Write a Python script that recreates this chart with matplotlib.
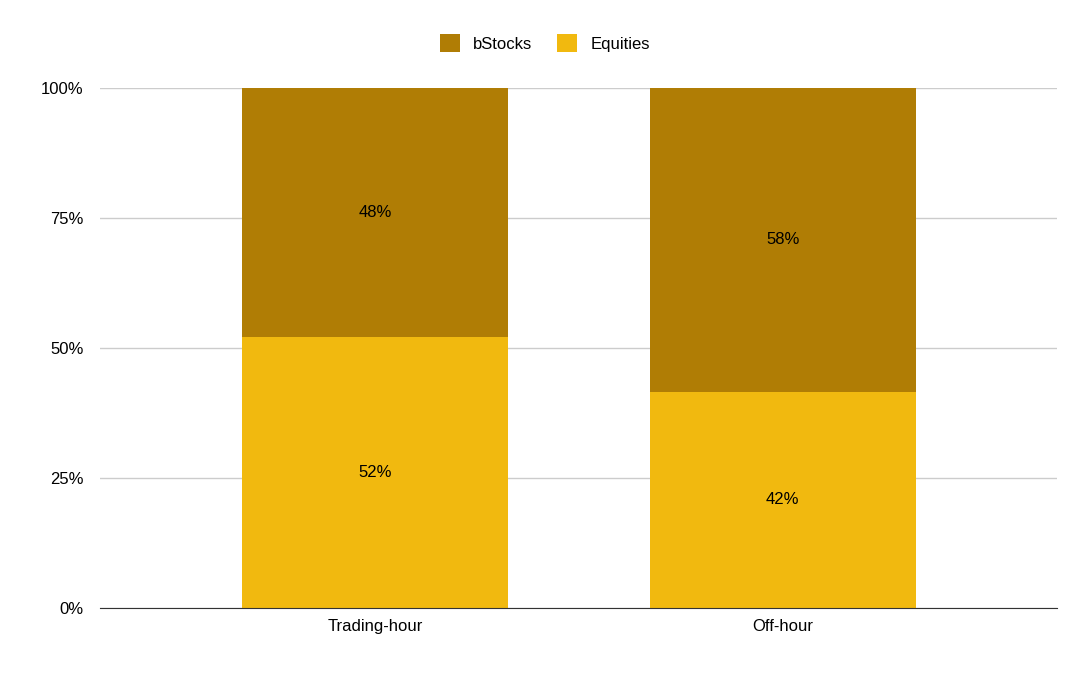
import matplotlib
matplotlib.use("Agg")
import matplotlib.pyplot as plt

categories = ["Trading-hour", "Off-hour"]
equities = [52.2, 41.6]
bstocks = [47.8, 58.4]

fig = plt.figure(figsize=(10.92, 6.75), dpi=100)
ax = fig.add_axes([100/1092, 1-608/675, 957/1092, 520/675])
x = list(range(len(categories)))
c_eq = "#F1B90F"
c_bs = "#B07D05"
ax.bar(x, equities, width=0.652, color=c_eq, label="Equities", zorder=2)
ax.bar(x, bstocks, width=0.652, bottom=equities, color=c_bs, label="bStocks", zorder=2)
for i in x:
    ax.text(i, equities[i]/2, f"{round(equities[i])}%", ha="center", va="center", fontsize=12, family="Liberation Sans")
    ax.text(i, equities[i]+bstocks[i]/2, f"{round(bstocks[i])}%", ha="center", va="center", fontsize=12, family="Liberation Sans")
ax.set_xlim(-0.674, 1.672)
ax.set_ylim(0, 100)
ax.set_yticks([0, 25, 50, 75, 100])
ax.set_yticklabels(["0%", "25%", "50%", "75%", "100%"], family="Liberation Sans", fontsize=12)
ax.set_xticks(x)
ax.set_xticklabels(categories, family="Liberation Sans", fontsize=12)
ax.grid(axis="y", color="#CCCCCC", lw=1, zorder=0)
for s in ["top", "right", "left"]:
    ax.spines[s].set_visible(False)
ax.spines["bottom"].set_color("#333333")
ax.tick_params(length=0, pad=8)
ax.tick_params(axis="y", pad=12)
h, l = ax.get_legend_handles_labels()
fig.legend(h[::-1], l[::-1], loc="center", bbox_to_anchor=(545/1092, 1-43/675), ncol=2, frameon=False,
           prop={"family": "Liberation Sans", "size": 12}, handlelength=1.2, handleheight=1.2, columnspacing=1.5)
fig.savefig("out.png", dpi=100)
